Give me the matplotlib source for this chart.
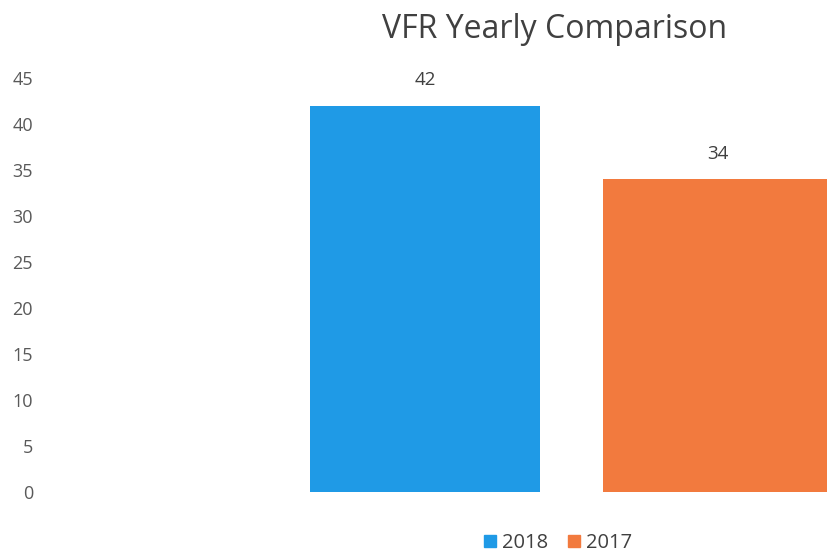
import matplotlib
matplotlib.use('Agg')
import matplotlib.pyplot as plt
from matplotlib.patches import Patch

plt.rcParams['font.family'] = ['Open Sans', 'DejaVu Sans']

series = ['2018', '2017']
values = [42, 34]
colors = ['#1f9ae6', '#f27a3e']
yticks = [0, 5, 10, 15, 20, 25, 30, 35, 40, 45]

fig = plt.figure(figsize=(8.28, 5.56), dpi=100)
ax = fig.add_axes([60 / 828, 64 / 556, 780 / 828, 414 / 556])

pos = [0, 1]
ax.bar(pos, values, width=0.785, color=colors)
for x, v in zip(pos, values):
    ax.annotate(str(v), (x, v), xytext=(0, 12), textcoords='offset points',
                ha='center', va='bottom', fontsize=13.5, color='#404040')

# keep ~293 px per category so the second bar runs off the right edge
ax.set_xlim(-1.246, -1.246 + 780 / 293)
ax.set_ylim(0, 45)
ax.set_yticks(yticks)
ax.set_xticks([])
ax.tick_params(axis='y', length=0, pad=19.5, labelsize=13, labelcolor='#595959')
for s in ax.spines.values():
    s.set_visible(False)

fig.text(555 / 828, 1 - 30 / 556, 'VFR Yearly Comparison', ha='center', va='center',
         fontsize=23, color='#404040')

handles = [Patch(color=c, label=s) for c, s in zip(colors, series)]
fig.legend(handles=handles, loc='center', bbox_to_anchor=(558 / 828, 1 - 543 / 556),
           ncol=2, frameon=False, fontsize=14.5, handlelength=0.6, handleheight=0.6,
           handletextpad=0.3, columnspacing=1.0, labelcolor='#404040')

fig.savefig('out.png', dpi=100)
